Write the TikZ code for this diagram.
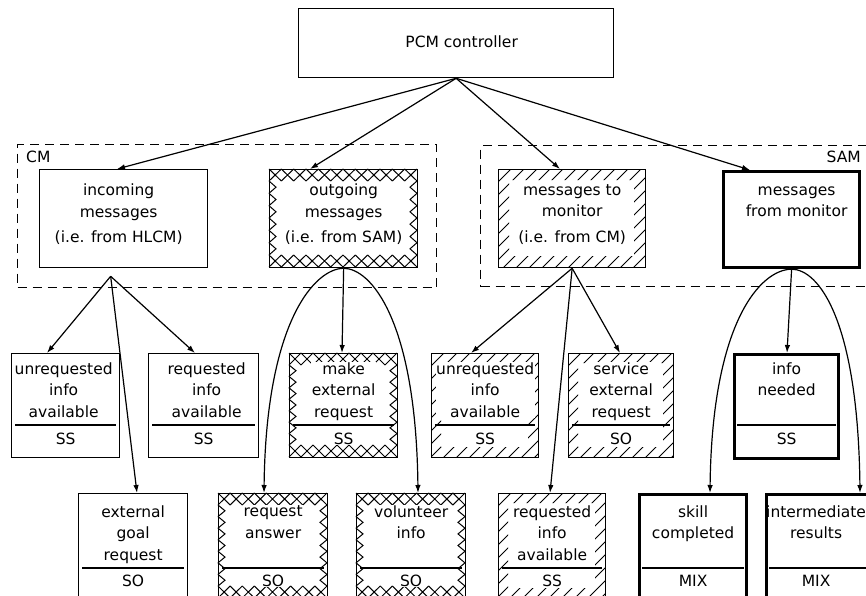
\documentclass[tikz,border=0pt]{standalone}
\usepackage{fontspec}
\setmainfont{DejaVu Sans}
\usetikzlibrary{arrows.meta,calc}

% Cross-hatched border band: a row of X's along top and bottom, zigzags on the sides.
% Arguments: left, top, right, bottom (y grows downwards).
\newcommand\crossband[4]{%
  \pgfmathtruncatemacro\cbn{max(1,round((#3-#1)/12))}%
  \pgfmathsetmacro\cbs{(#3-#1)/\cbn}%
  \pgfmathtruncatemacro\cbm{max(1,round((#4-#2-24)/12))}%
  \pgfmathsetmacro\cbt{(#4-#2-24)/\cbm}%
  \foreach \i in {1,...,\cbn}{%
    \draw[hatch] ({#1+(\i-1)*\cbs},#2) -- ({#1+\i*\cbs},#2+12)
                 ({#1+\i*\cbs},#2) -- ({#1+(\i-1)*\cbs},#2+12)
                 ({#1+(\i-1)*\cbs},#4-12) -- ({#1+\i*\cbs},#4)
                 ({#1+\i*\cbs},#4-12) -- ({#1+(\i-1)*\cbs},#4);
  }%
  \foreach \j in {1,...,\cbm}{%
    \draw[hatch] (#1,{#2+12+(\j-1)*\cbt}) -- (#1+7,{#2+12+(\j-0.5)*\cbt}) -- (#1,{#2+12+\j*\cbt})
                 (#3,{#2+12+(\j-1)*\cbt}) -- (#3-7,{#2+12+(\j-0.5)*\cbt}) -- (#3,{#2+12+\j*\cbt});
  }%
}

% Single-hatched border band of width #5: short '/' strokes all round the box.
\newcommand\slashband[5]{%
  \begin{scope}[even odd rule]
    \clip (#1,#2) rectangle (#3,#4) (#1+#5,#2+#5) rectangle (#3-#5,#4-#5);
    \pgfmathtruncatemacro\sbn{((#3-#1)+(#4-#2))/13+1}%
    \foreach \k in {0,...,\sbn}{\draw[hatch] ({#1+\k*13},#2) -- ++(-200,200);}
  \end{scope}%
}

\begin{document}
\begin{tikzpicture}[x=1pt,y=-1pt,
  every node/.style={font=\fontsize{15.5}{21.5}\selectfont},
  box/.style 2 args={draw, line width=1.3pt, fill=white, anchor=north west,
    inner sep=0pt, minimum width=#1, minimum height=#2},
  heavy/.style={line width=3.2pt},
  group/.style 2 args={draw, dash pattern=on 9pt off 6pt, line width=1.2pt,
    anchor=north west, inner sep=0pt, minimum width=#1, minimum height=#2},
  lbl/.style={align=center, anchor=north, inner sep=0.6pt, fill=white},
  code/.style={anchor=base, inner sep=0.6pt, fill=white},
  conn/.style={line width=1.2pt, -{Latex[length=8pt,width=5.5pt]}},
  hatch/.style={line width=1pt},
  divider/.style={line width=1.2pt}
]
\useasboundingbox (0,0) rectangle (866,596);
\clip (0,0) rectangle (866,596);

% ---- group frames ----
\node[group={419pt}{143pt}] (cm) at (17,144) {};
\node[group={400pt}{141pt}] (sam) at (480,145) {};
\node[anchor=base west, inner sep=0pt] (cmlabel) at ($(cm.north west)+(9,18)$) {CM};
\node[anchor=base east, inner sep=0pt] (samlabel) at (861,162) {SAM};

% ---- top level ----
\node[box={315pt}{69pt}] (pcm) at (298,8) {};

% ---- message handlers ----
\node[box={168pt}{98pt}] (inc) at (39,169) {};
\node[box={148pt}{98pt}] (out) at (269,169) {};
\node[box={147pt}{98pt}] (tomon) at (498,169) {};
\node[box={136pt}{96pt}, heavy] (frommon) at (722,170) {};

% ---- second row ----
\node[box={108pt}{104pt}] (ur1) at (11,353) {};
\node[box={110pt}{104pt}] (rq1) at (148,353) {};
\node[box={108pt}{104pt}] (mk) at (289,353) {};
\node[box={107pt}{104pt}] (ur2) at (431,353) {};
\node[box={105pt}{104pt}] (sv) at (568,353) {};
\node[box={104pt}{104pt}, heavy] (need) at (733,353) {};

% ---- third row ----
\node[box={109pt}{105pt}] (ext) at (78,493) {};
\node[box={109pt}{105pt}] (ans) at (218,493) {};
\node[box={109pt}{105pt}] (vol) at (356,493) {};
\node[box={107pt}{105pt}] (rq2) at (498,493) {};
\node[box={107pt}{105pt}, heavy] (skill) at (638,493) {};
\node[box={105pt}{105pt}, heavy] (inter) at (765,493) {};

% ---- hatching ----
\crossband{269}{169}{417}{267}
\crossband{289}{353}{397}{457}
\crossband{218}{493}{327}{598}
\crossband{356}{493}{465}{598}
\slashband{498}{169}{645}{267}{11}
\slashband{431}{353}{538}{457}{10}
\slashband{568}{353}{673}{457}{10}
\slashband{498}{493}{605}{598}{10}

% ---- dividers above the codes ----
\foreach \b in {ur1,rq1,mk,ur2,sv,need}
  \draw[divider] ($(\b.north west)+(4,72)$) -- ($(\b.north east)+(-4,72)$);
\foreach \b in {ext,ans,vol,rq2,skill,inter}
  \draw[divider] ($(\b.north west)+(4,75)$) -- ($(\b.north east)+(-4,75)$);

% ---- texts ----
\node[anchor=base, inner sep=0pt] (pcmtxt) at ($(pcm.north)+(5.5,40)$) {PCM controller};

\node[lbl] (inctxt) at ($(inc.north)+(-5,14)$) {\rule{0pt}{11.5pt}incoming\\messages};
\node[code] (incsrc) at ($(inc.north)+(-5,73)$) {(i.e. from HLCM)};
\node[lbl] (outtxt) at ($(out.north)+(0,14)$) {\rule{0pt}{11.5pt}outgoing\\messages};
\node[code] (outsrc) at ($(out.north)+(0,73)$) {(i.e. from SAM)};
\node[lbl] (tomontxt) at ($(tomon.north)+(0,14)$) {\rule{0pt}{11.5pt}messages to\\monitor};
\node[code] (tomonsrc) at ($(tomon.north)+(0,73)$) {(i.e. from CM)};
\node[lbl] (frommontxt) at ($(frommon.north)+(5,13)$) {\rule{0pt}{11.5pt}messages\\from monitor};

\node[lbl] (ur1txt) at ($(ur1.north)+(-2,8.5)$) {\rule{0pt}{11.5pt}unrequested\\info\\available};
\node[code] (ur1c) at ($(ur1.north)+(0,91)$) {SS};
\node[lbl] (rq1txt) at ($(rq1.north)+(3,8.5)$) {\rule{0pt}{11.5pt}requested\\info\\available};
\node[code] (rq1c) at ($(rq1.north)+(0,91)$) {SS};
\node[lbl] (mktxt) at ($(mk.north)+(0,8.5)$) {\rule{0pt}{11.5pt}make\\external\\request};
\node[code] (mkc) at ($(mk.north)+(0,91)$) {SS};
\node[lbl] (ur2txt) at ($(ur2.north)+(0,8.5)$) {\rule{0pt}{11.5pt}unrequested\\info\\available};
\node[code] (ur2c) at ($(ur2.north)+(0,91)$) {SS};
\node[lbl] (svtxt) at ($(sv.north)+(0,8.5)$) {\rule{0pt}{11.5pt}service\\external\\request};
\node[code] (svc) at ($(sv.north)+(0,91)$) {SO};
\node[lbl] (needtxt) at ($(need.north)+(0,8.5)$) {\rule{0pt}{11.5pt}info\\needed};
\node[code] (needc) at ($(need.north)+(0,91)$) {SS};

\node[lbl] (exttxt) at ($(ext.north)+(0,11.5)$) {\rule{0pt}{11.5pt}external\\goal\\request};
\node[code] (extc) at ($(ext.north)+(0,93)$) {SO};
\node[lbl] (anstxt) at ($(ans.north)+(0,11.5)$) {\rule{0pt}{11.5pt}request\\answer};
\node[code] (ansc) at ($(ans.north)+(0,93)$) {SO};
\node[lbl] (voltxt) at ($(vol.north)+(0,11.5)$) {\rule{0pt}{11.5pt}volunteer\\info};
\node[code] (volc) at ($(vol.north)+(0,93)$) {SO};
\node[lbl] (rq2txt) at ($(rq2.north)+(0,11.5)$) {\rule{0pt}{11.5pt}requested\\info\\available};
\node[code] (rq2c) at ($(rq2.north)+(0,93)$) {SS};
\node[lbl] (skilltxt) at ($(skill.north)+(0,11.5)$) {\rule{0pt}{11.5pt}skill\\completed};
\node[code] (skillc) at ($(skill.north)+(0,93)$) {MIX};
\node[lbl, fill=none] (intertxt) at ($(inter.north)+(-3,11.5)$) {\rule{0pt}{11.5pt}intermediate\\results};
\node[code] (interc) at ($(inter.north)+(-3,93)$) {MIX};

% ---- connectors ----
\draw[conn] (pcm.south) -- ($(inc.north west)+(78,0)$);
\draw[conn] (pcm.south) -- ($(out.north west)+(41,0)$);
\draw[conn] (pcm.south) -- ($(tomon.north west)+(62,0)$);
\draw[conn] (pcm.south) -- ($(frommon.north west)+(28,0)$);

\coordinate (incfork) at ($(inc.south)+(-13,8)$);
\draw[conn] (incfork) -- ($(ur1.north west)+(36,0)$);
\draw[conn] (incfork) -- ($(rq1.north west)+(47,0)$);
\draw[conn] (incfork) -- ($(ext.north west)+(59,0)$);

\draw[conn] (out.south) -- ($(mk.north west)+(53,0)$);
\draw[conn] (out.south) .. controls +(-28,0) and +(2,-173) .. ($(ans.north west)+(46,0)$);
\draw[conn] (out.south) .. controls +(27,0) and +(-2,-173) .. ($(vol.north west)+(62,0)$);

\draw[conn] (tomon.south) -- ($(ur2.north west)+(40,0)$);
\draw[conn] (tomon.south) -- ($(sv.north west)+(52,0)$);
\draw[conn] (tomon.south) -- ($(rq2.north west)+(52,0)$);

\draw[conn] (frommon.south) -- ($(need.north west)+(54,0)$);
\draw[conn] (frommon.south) .. controls +(-30,0) and +(2,-173) .. ($(skill.north west)+(72,0)$);
\draw[conn] (frommon.south) .. controls +(27,0) and +(-2,-173) .. ($(inter.north west)+(95,0)$);
\end{tikzpicture}
\end{document}
